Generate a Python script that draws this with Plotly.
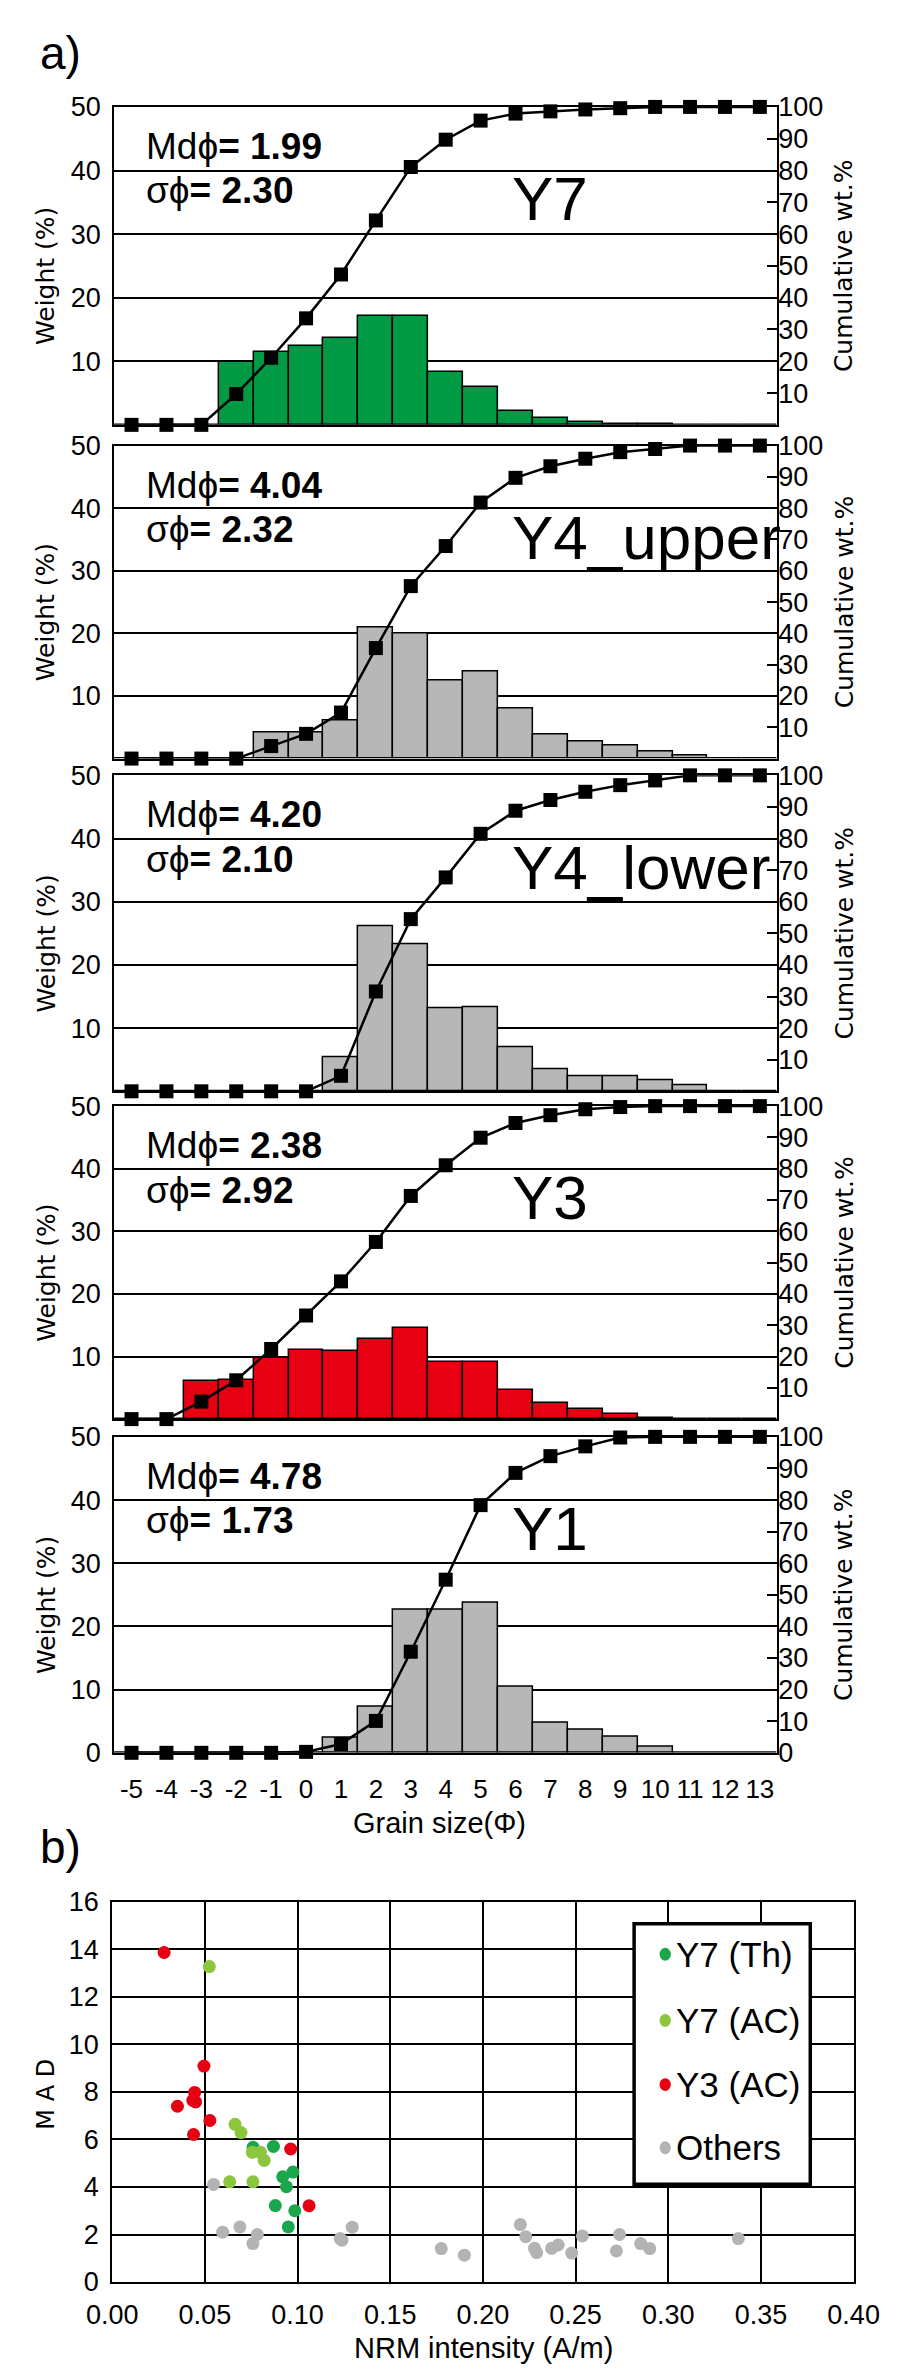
import plotly.graph_objects as go

W, H = 898, 2370

# ---------------- data ----------------
phi = [-5, -4, -3, -2, -1, 0, 1, 2, 3, 4, 5, 6, 7, 8, 9, 10, 11, 12, 13]
phi_labels = ["-5", "-4", "-3", "-2", "-1", "0", "1", "2", "3", "4", "5", "6",
              "7", "8", "9", "10", "11", "12", "13"]

samples = ["Y7", "Y4_upper", "Y4_lower", "Y3", "Y1"]
md_phi = ["1.99", "4.04", "4.20", "2.38", "4.78"]
sigma_phi = ["2.30", "2.32", "2.10", "2.92", "1.73"]

y7_weight = [0, 0, 0, 9.9, 11.4, 12.4, 13.7, 17.1, 17.1, 8.4, 5.9, 2.2, 1.1, 0.5, 0.2, 0.1, 0, 0, 0]
y7_cum = [0, 0, 0, 9.7, 21.1, 33.5, 47.3, 64.3, 81.1, 89.7, 95.7, 97.9, 98.6, 99.2, 99.6, 100, 100, 100, 100]

y4u_weight = [0, 0, 0, 0, 4.1, 4.1, 6.1, 20.9, 20.0, 12.4, 13.9, 8.0, 3.8, 2.7, 2.1, 1.05, 0.5, 0, 0]
y4u_cum = [0, 0, 0, 0, 4.0, 7.9, 14.7, 35.3, 55.1, 67.9, 81.8, 89.7, 93.4, 95.8, 97.9, 98.9, 100, 100, 100]

y4l_weight = [0, 0, 0, 0, 0, 0, 5.4, 26.1, 23.2, 13.1, 13.3, 7.0, 3.5, 2.4, 2.4, 1.7, 1.0, 0, 0]
y4l_cum = [0, 0, 0, 0, 0, 0, 4.9, 31.6, 54.5, 67.7, 81.5, 88.8, 92.2, 94.8, 96.9, 98.4, 100, 100, 100]

y3_weight = [0, 0, 6.1, 6.3, 9.8, 11.0, 10.8, 12.7, 14.6, 9.1, 9.1, 4.7, 2.5, 1.6, 0.8, 0.1, 0, 0, 0]
y3_cum = [0, 0, 5.6, 12.4, 22.4, 33.1, 44.0, 56.6, 71.3, 81.1, 89.9, 94.6, 97.1, 99.0, 99.7, 100, 100, 100, 100]

y1_weight = [0, 0, 0, 0, 0, 0, 2.3, 7.2, 22.7, 22.7, 23.7, 10.4, 4.7, 3.6, 2.5, 0.9, 0, 0, 0]
y1_cum = [0, 0, 0, 0, 0, 0.3, 2.8, 10.1, 32.0, 54.8, 78.4, 88.6, 93.9, 97.0, 99.8, 100, 100, 100, 100]

weights = [y7_weight, y4u_weight, y4l_weight, y3_weight, y1_weight]
cums = [y7_cum, y4u_cum, y4l_cum, y3_cum, y1_cum]
bar_colors = ["#009a44", "#b7b7b7", "#b7b7b7", "#e60012", "#b7b7b7"]

# NRM scatter (b)
y7th_nrm = [0.076, 0.087, 0.092, 0.0975, 0.094, 0.088, 0.0985, 0.095]
y7th_mad = [5.67, 5.71, 4.43, 4.63, 4.01, 3.22, 3.00, 2.32]

y7ac_nrm = [0.0524, 0.0663, 0.0695, 0.0756, 0.080, 0.082, 0.0634, 0.0759]
y7ac_mad = [13.28, 6.64, 6.29, 5.46, 5.46, 5.12, 4.22, 4.22]

y3ac_nrm = [0.028, 0.0495, 0.0445, 0.0435, 0.0450, 0.0352, 0.0527, 0.0439, 0.0963, 0.1062]
y3ac_mad = [13.87, 9.09, 7.98, 7.65, 7.58, 7.40, 6.80, 6.21, 5.60, 3.21]

oth_nrm = [0.0547, 0.0596, 0.0689, 0.0783, 0.0759, 0.123, 0.124, 0.1295, 0.1775, 0.190,
           0.2202, 0.2231, 0.2278, 0.229, 0.2371, 0.2406, 0.2479, 0.2537, 0.272, 0.2737,
           0.2851, 0.290, 0.3378]
oth_mad = [4.11, 2.10, 2.32, 2.00, 1.62, 1.83, 1.76, 2.31, 1.41, 1.13,
           2.42, 1.91, 1.42, 1.24, 1.42, 1.56, 1.22, 1.94, 1.31, 2.00,
           1.62, 1.41, 1.83]

nrm_ticks = [0, 0.05, 0.10, 0.15, 0.20, 0.25, 0.30, 0.35, 0.40]
mad_ticks = [0, 2, 4, 6, 8, 10, 12, 14, 16]

# ---------------- layout helpers ----------------
FONT = "Liberation Sans, Arial, sans-serif"
FONT2 = "DejaVu Sans, Verdana, sans-serif"


def px(x):
    return x / W


def py(y):
    return 1 - y / H


panels_px = [(85, 407), (428, 745), (762, 1082), (1097, 1414), (1432, 1752)]
XL, XR = 85, 789

fig = go.Figure()
layout = dict(
    width=W, height=H, autosize=False,
    margin=dict(l=0, r=0, t=0, b=0),
    paper_bgcolor="white", plot_bgcolor="white",
    showlegend=False, bargap=0,
    font=dict(family=FONT, color="black", size=24),
)
annotations = []
shapes = []

for i in range(5):
    n = i + 1
    top, bot = panels_px[i]
    xa = "x" if n == 1 else f"x{n}"
    ya = "y" if n == 1 else f"y{n}"
    ya2 = f"y{5 + n}"
    last = (i == 4)

    fig.add_trace(go.Bar(
        x=phi, y=weights[i], width=1, xaxis=xa, yaxis=ya,
        marker=dict(color=bar_colors[i], line=dict(color="black", width=1.5)),
    ))
    fig.add_trace(go.Scatter(
        x=phi, y=cums[i], xaxis=xa, yaxis=ya2, mode="lines+markers",
        line=dict(color="black", width=2.5),
        marker=dict(symbol="square", size=14, color="black"),
        cliponaxis=False,
    ))

    layout["xaxis" if n == 1 else f"xaxis{n}"] = dict(
        domain=[px(XL), px(XR)], range=[-5.5, 13.5], anchor=ya,
        showline=True, mirror=True, linecolor="black", linewidth=2,
        showgrid=False, zeroline=False, ticks="",
        tickvals=phi, ticktext=phi_labels, showticklabels=last,
        tickfont=dict(size=26, family=FONT), ticklabelstandoff=12,
    )
    layout["yaxis" if n == 1 else f"yaxis{n}"] = dict(
        domain=[py(bot), py(top)], range=[0, 50], anchor=xa,
        showline=True, mirror=True, linecolor="black", linewidth=2,
        showgrid=True, gridcolor="black", gridwidth=2, zeroline=False,
        ticks="", tickvals=([0, 10, 20, 30, 40, 50] if last else [10, 20, 30, 40, 50]),
        tickfont=dict(size=27, family=FONT), ticklabelstandoff=6,
    )
    layout[f"yaxis{5 + n}"] = dict(
        overlaying=ya, side="right", range=[0, 100], anchor=xa,
        showline=False, showgrid=False, zeroline=False,
        ticks="inside", ticklen=10, tickwidth=2, tickcolor="black",
        tickvals=([0, 10, 20, 30, 40, 50, 60, 70, 80, 90, 100] if last
                  else [10, 20, 30, 40, 50, 60, 70, 80, 90, 100]),
        tickfont=dict(size=27, family=FONT),
    )

    # axis titles
    annotations.append(dict(text="Weight (%)", x=px(13), y=py((top + bot) / 2 + 10),
                            xref="paper", yref="paper", showarrow=False, textangle=-90,
                            xanchor="center", yanchor="middle",
                            font=dict(size=25, family=FONT2)))
    annotations.append(dict(text="Cumulative wt.%", x=px(860), y=py((top + bot) / 2),
                            xref="paper", yref="paper", showarrow=False, textangle=-90,
                            xanchor="center", yanchor="middle",
                            font=dict(size=25, family=FONT2)))
    # statistics
    annotations.append(dict(text=f"Mdϕ<b>= {md_phi[i]}</b>", x=px(117), y=py(top + 40),
                            xref="paper", yref="paper", showarrow=False,
                            xanchor="left", yanchor="middle",
                            font=dict(size=37, family=FONT)))
    annotations.append(dict(text=f"σϕ<b>= {sigma_phi[i]}</b>", x=px(117), y=py(top + 85),
                            xref="paper", yref="paper", showarrow=False,
                            xanchor="left", yanchor="middle",
                            font=dict(size=37, family=FONT)))
    annotations.append(dict(text=samples[i], x=px(505), y=py(top + 93),
                            xref="paper", yref="paper", showarrow=False,
                            xanchor="left", yanchor="middle",
                            font=dict(size=62, family=FONT)))

annotations.append(dict(text="Grain size(Φ)", x=px(430), y=py(1823), xref="paper", yref="paper",
                        showarrow=False, xanchor="center", yanchor="middle",
                        font=dict(size=29, family=FONT)))
annotations.append(dict(text="a)", x=px(4), y=py(30), xref="paper", yref="paper",
                        showarrow=False, xanchor="left", yanchor="middle",
                        font=dict(size=46, family=FONT)))
annotations.append(dict(text="b)", x=px(4), y=py(1847), xref="paper", yref="paper",
                        showarrow=False, xanchor="left", yanchor="middle",
                        font=dict(size=46, family=FONT)))

# ---------------- scatter (b) ----------------
SXL, SXR, STOP, SBOT = 83, 870, 1903, 2288
groups = [
    ("Others", oth_nrm, oth_mad, "#b3b3b3"),
    ("Y7 (Th)", y7th_nrm, y7th_mad, "#1aa64a"),
    ("Y7 (AC)", y7ac_nrm, y7ac_mad, "#8cc63f"),
    ("Y3 (AC)", y3ac_nrm, y3ac_mad, "#e60012"),
]
for name, xs, ys, col in groups:
    fig.add_trace(go.Scatter(x=xs, y=ys, xaxis="x6", yaxis="y11", mode="markers", name=name,
                             marker=dict(size=13, color=col, line=dict(width=0))))

layout["xaxis6"] = dict(
    domain=[px(SXL), px(SXR)], range=[0, 0.4], anchor="y11",
    showline=True, mirror=True, linecolor="black", linewidth=2,
    showgrid=True, gridcolor="black", gridwidth=2, zeroline=False, ticks="",
    tickvals=nrm_ticks, tickformat=".2f", tickfont=dict(size=27, family=FONT),
    ticklabelstandoff=8,
)
layout["yaxis11"] = dict(
    domain=[py(SBOT), py(STOP)], range=[0, 16], anchor="x6",
    showline=True, mirror=True, linecolor="black", linewidth=2,
    showgrid=True, gridcolor="black", gridwidth=2, zeroline=False, ticks="",
    tickvals=mad_ticks, tickfont=dict(size=27, family=FONT), ticklabelstandoff=6,
)
annotations.append(dict(text="NRM intensity (A/m)", x=px(477), y=py(2355), xref="paper", yref="paper",
                        showarrow=False, xanchor="center", yanchor="middle",
                        font=dict(size=29, family=FONT)))
annotations.append(dict(text="M A D", x=px(13), y=py(2098), xref="paper", yref="paper",
                        showarrow=False, textangle=-90, xanchor="center", yanchor="middle",
                        font=dict(size=24, family=FONT2)))

# manual legend
shapes.append(dict(type="rect", xref="paper", yref="paper",
                   x0=px(637), x1=px(824), y0=py(2189), y1=py(1925),
                   line=dict(color="black", width=3.5), fillcolor="white", layer="above"))
leg_y = [1956, 2023, 2088, 2152]
for (name, xs, ys, col), yy in zip([groups[1], groups[2], groups[3], groups[0]], leg_y):
    shapes.append(dict(type="circle", xref="paper", yref="paper",
                       x0=px(664), x1=px(676), y0=py(yy + 6.5), y1=py(yy - 6.5),
                       line=dict(width=0), fillcolor=col, layer="above"))
    annotations.append(dict(text=name, x=px(679), y=py(yy), xref="paper", yref="paper",
                            showarrow=False, xanchor="left", yanchor="middle",
                            font=dict(size=35, family=FONT)))

layout["annotations"] = annotations
layout["shapes"] = shapes
fig.update_layout(**layout)
fig.write_html("out.html")
